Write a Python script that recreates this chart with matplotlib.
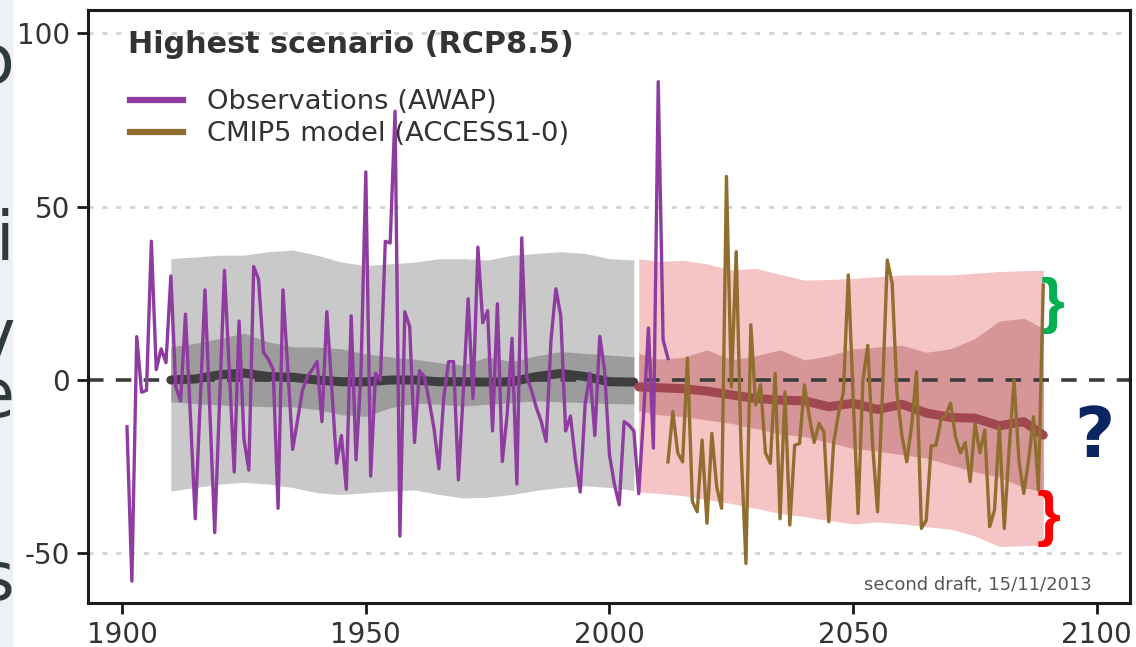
import numpy as np
import matplotlib
matplotlib.use("Agg")
import matplotlib.pyplot as plt
from matplotlib.lines import Line2D
from matplotlib.patches import Rectangle

plt.rcParams['axes.unicode_minus'] = False

# ---- data -----------------------------------------------------------------
OBS_START = 1901
obs_vals = [-13.5, -58, 12.5, -3.5, -3, 40, 3, 9, 5, 30,            # 1901-1910
            -2, -6, 19, -10, -40, -7, 26, -9, -44, -6,               # 1911-1920
            31.6, 2.5, -26.5, 17, -17, -26, 32.7, 29, 8, 6,          # 1921-1930
            3, -37, 26, 3, -20, -11.5, -3, 1, 3, 5.3,                # 1931-1940
            -12, 19.7, -2, -24, -16, -31.5, 18.5, -23, 1.5, 60,      # 1941-1950
            -27.7, 2, 0, 40, 39.5, 77.5, -45, 19.7, 15.4, -18,       # 1951-1960
            2.7, 1, -6, -14, -25.6, -5, 5.3, 5.3, -28.8, -3.7,       # 1961-1970
            23.4, -5.3, 38.3, 16.5, 20, -14.7, 22, -23.5, -10, 12,   # 1971-1980
            -30, 41, 1, -3, -8, -12, -17.7, 11.6, 26.3, 18.5,        # 1981-1990
            -14.7, -10.4, -23, -32.3, -7, 2, -16, 12.6, 2.8, -21.6,  # 1991-2000
            -30, -36, -12, -13, -14.7, -32.8, -10, 15, -19.6, 86,    # 2001-2010
            11.6, 6.2]                                               # 2011-2012

MOD_START = 2012
mod_vals = [-23.6, -9.1, -21, -23.6, 6.3, -35, -38, -17.3, -41.3,    # 2012-2020
            -15.4, -30.8, -37, 58.7, -2, 37, -20, -52.9, 15.9, -7.2, # 2021-2030
            -1.4, -21, -24, 1.9, -40, -3.4, -41.8, -18.8, -18.3, -1.4,  # 2031-2040
            -10.6, -18, -12.5, -15, -40.9, -18, -9.6, -3.4, 30.3, -5,   # 2041-2050
            -38.5, 0, 10, -19, -38, -4, 34.6, 27.9, -4, -16,            # 2051-2060
            -23.6, -13, 2.4, -42.8, -40.4, -19, -18.8, -11.5, -10, -6.7,  # 2061-2070
            -16.5, -21, -18, -29.3, -12.5, -21, -14.4, -42.3, -37.5, -13.5,  # 2071-2080
            -42.8, -20, 0, -23, -32.7, -23, -10.6, -31.7, 27.4]         # 2081-2089

# historical ensemble (grey)
hist_years = [1910, 1915, 1920, 1925, 1930, 1935, 1940, 1945, 1950, 1955,
              1960, 1965, 1970, 1975, 1980, 1985, 1990, 1995, 2000, 2005]
hist_hi = [35, 35.5, 36, 36, 37, 37.5, 36, 34, 33, 33.5,
           34, 35, 35, 34.6, 36, 36.5, 37, 36.5, 35, 34.6]
hist_lo = [-32, -31, -30, -29.5, -30, -31, -32.5, -33, -32.5, -32,
           -31.7, -33, -34, -33.8, -33, -31.8, -31, -30.5, -31, -31.8]
hist_mid_hi = [9.6, 10.6, 12, 13.5, 11, 9.6, 9.5, 9, 7.5, 6.7,
               6, 5, 4.3, 6.7, 5.3, 7, 8.2, 7.7, 7.2, 6.7]
hist_mid_lo = [-6.3, -6.8, -7.2, -7.4, -7.7, -7.7, -8.5, -10, -10.5, -8,
               -6.7, -7, -7.5, -7, -6.5, -6, -6.3, -6.5, -6.8, -6.9]
hist_med = [0, 0.3, 1.5, 2, 1, 0.8, 0, -0.5, -0.5, 0,
            0, -0.5, -0.5, -0.6, -0.5, 1, 1.9, 1, -0.5, -0.6]

# RCP8.5 projection (red)
fut_years = [2006, 2010, 2015, 2020, 2025, 2030, 2035, 2040, 2045, 2050,
             2055, 2060, 2065, 2070, 2075, 2080, 2085, 2089]
fut_hi = [35, 34.2, 34.5, 33.5, 31.7, 32.2, 30.5, 28.8, 29, 29.3,
          29.8, 30.3, 30.3, 30.3, 30.8, 31.3, 31.5, 31.7]
fut_lo = [-32.3, -32.7, -33.3, -34.5, -35.6, -37, -38.5, -39.4, -40.5, -41.5,
          -40.9, -41.5, -42.3, -43, -45, -48, -47.8, -47.6]
fut_mid_hi = [7.7, 6, 6.5, 8.7, 5.8, 7, 8.7, 5.8, 7, 9,
              9.5, 10, 8, 9, 12, 17, 17.8, 14.9]
fut_mid_lo = [-8.9, -10, -10.5, -11.5, -12.5, -14, -15.5, -16.3, -18, -19.7,
              -20.5, -21.5, -22.5, -24.5, -26.5, -28, -31, -32.2]
fut_med = [-2, -2.2, -2.5, -3.2, -4.3, -5.3, -5.8, -6, -7.7, -6.7,
           -8.5, -7, -9.5, -10.8, -11, -13.2, -12, -15.9]

Y_TICKS = [-50, 0, 50, 100]
X_TICKS = [1900, 1950, 2000, 2050, 2100]

OBS_COLOR = '#8e3c9f'
MOD_COLOR = '#8f6e30'
TXT = '#333333'

obs_years = np.arange(OBS_START, OBS_START + len(obs_vals))
mod_years = np.arange(MOD_START, MOD_START + len(mod_vals))

fig = plt.figure(figsize=(11.36, 6.47), dpi=100)
ax = fig.add_axes([88 / 1136, 1 - 603 / 647, 1042 / 1136, 593 / 647])

# bands
ax.fill_between(hist_years, hist_lo, hist_hi, color='#c9c9c9', lw=0, zorder=1)
ax.fill_between(hist_years, hist_mid_lo, hist_mid_hi, color='#9c9c9c', lw=0, zorder=1.1)
ax.fill_between(fut_years, fut_lo, fut_hi, color='#f5c4c4', lw=0, zorder=1)
ax.fill_between(fut_years, fut_mid_lo, fut_mid_hi, color='#d69596', lw=0, zorder=1.1)

# grid + zero line
for yv in Y_TICKS:
    if yv == 0:
        continue
    ax.axhline(yv, color='#d2d2d2', lw=2.0, dashes=(1.8, 3.2), zorder=0.5)
ax.axhline(0, color='#3c3c3c', lw=2.6, dashes=(4.3, 3.4), zorder=2)

# ensemble medians
ax.plot(hist_years, hist_med, color='#3e3e3e', lw=6.5, solid_capstyle='round', zorder=2.5)
ax.plot(fut_years, fut_med, color='#a1474f', lw=6.5, solid_capstyle='round', zorder=2.5)

# series
ax.plot(obs_years, obs_vals, color=OBS_COLOR, lw=2.4, zorder=4)
ax.plot(mod_years, mod_vals, color=MOD_COLOR, lw=2.4, zorder=4)

ax.set_xlim(1893.0, 2106.8)
ax.set_ylim(-64.3, 106.7)
ax.set_xticks(X_TICKS)
ax.set_yticks(Y_TICKS)
ax.tick_params(labelsize=20, length=8, width=2, colors='#1a1a1a', labelcolor=TXT, pad=5)
for s in ax.spines.values():
    s.set_linewidth(2.2)
    s.set_color('#1a1a1a')

ax.text(0.0384, 0.928, 'Highest scenario (RCP8.5)', transform=ax.transAxes,
        fontsize=21.8, fontweight='bold', color=TXT, va='baseline', ha='left')

handles = [Line2D([0], [0], color=OBS_COLOR, lw=4.5),
           Line2D([0], [0], color=MOD_COLOR, lw=4.5)]
leg = ax.legend(handles, ['Observations (AWAP)', 'CMIP5 model (ACCESS1-0)'],
                loc='upper left', bbox_to_anchor=(0.0403, 0.866), frameon=False,
                fontsize=19.75, handlelength=1.95, handletextpad=0.85,
                labelspacing=0.22, borderaxespad=0, borderpad=0)
for t in leg.get_texts():
    t.set_color(TXT)

ax.text(0.9635, 0.022, 'second draft, 15/11/2013', transform=ax.transAxes,
        fontsize=13, color='#555555', ha='right', va='baseline')

# slide annotations
ax.text(0.926, 0.5017, '}', transform=ax.transAxes, fontsize=44, color='#00b050',
        family='Liberation Sans', fontweight='bold', ha='center', va='center')
ax.text(0.922, 0.143, '}', transform=ax.transAxes, fontsize=44, color='#ff0000',
        family='Liberation Sans', fontweight='bold', ha='center', va='center')
ax.text(0.9655, 0.2795, '?', transform=ax.transAxes, fontsize=50, color='#0b2563',
        fontweight='bold', ha='center', va='center')

# cut-off text of the slide behind
fig.patches.append(Rectangle((0, 0), 12 / 1136, 1, transform=fig.transFigure,
                             color='#eef1f3', zorder=-1))
for ch, yb in [('o', 83), ('i', 260), ('v', 357), ('e', 417), ('s', 600)]:
    fig.text(14 / 1136, 1 - yb / 647, ch, fontsize=48, color='#2f3b3b',
             ha='right', va='baseline')

fig.savefig('out.png', dpi=100)
